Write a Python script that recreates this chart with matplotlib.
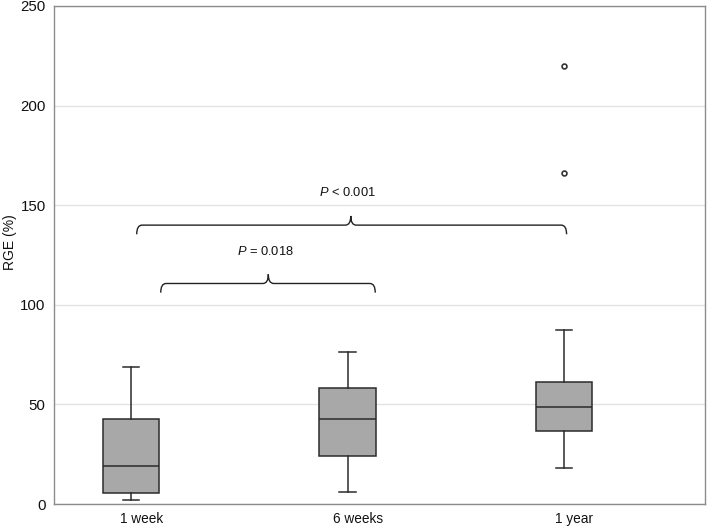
import matplotlib
matplotlib.use("Agg")
import matplotlib.pyplot as plt
from matplotlib.path import Path
from matplotlib.patches import PathPatch

plt.rcParams['font.family'] = ['Liberation Sans', 'DejaVu Sans']
plt.rcParams['mathtext.fontset'] = 'custom'
plt.rcParams['mathtext.it'] = 'Liberation Sans:italic'
plt.rcParams['mathtext.rm'] = 'Liberation Sans'

# summary values
groups = ['1 week', '6 weeks', '1 year']
whislo = [2.0, 6.2, 18.0]
q1 = [5.7, 24.3, 36.6]
med = [19.1, 42.6, 48.8]
q3 = [42.9, 58.0, 61.0]
whishi = [68.8, 76.5, 87.2]
fliers = [[], [], [166.3, 219.8]]

# significance braces: (x start, x end, x tip, y line, label)
brace_x0 = [0.137, 0.026]
brace_x1 = [1.128, 2.012]
brace_tip = [0.634, 1.015]
brace_y = [110.7, 140.0]
brace_lbl = [r'$\it{P}$ = 0.018', r'$\it{P}$ < 0.001']


def draw_brace(ax, x0, x1, xt, y, label, dh=4.6, r=0.025):
    # flat brace: rounded ends going down, small cusp going up in the middle
    verts = [(x0, y - dh), (x0, y), (x0 + r, y),
             (xt - r, y), (xt, y), (xt, y + dh),
             (xt, y), (xt + r, y),
             (x1 - r, y), (x1, y), (x1, y - dh)]
    codes = [Path.MOVETO, Path.CURVE3, Path.CURVE3,
             Path.LINETO, Path.CURVE3, Path.CURVE3,
             Path.CURVE3, Path.CURVE3,
             Path.LINETO, Path.CURVE3, Path.CURVE3]
    ax.add_patch(PathPatch(Path(verts, codes), fc='none', ec='#222222', lw=1.0))
    ax.text(xt - 0.015, y + 13, label, ha='center', va='bottom', fontsize=9.3, color='#111111')


fig = plt.figure(figsize=(7.09, 5.28), dpi=100)
ax = fig.add_axes([0.0762, 0.04545, 0.918, 0.9432])

stats = []
for i, g in enumerate(groups):
    stats.append(dict(label=g, whislo=whislo[i], q1=q1[i], med=med[i],
                      q3=q3[i], whishi=whishi[i], fliers=fliers[i]))

pos = [0, 1, 2]
ax.bxp(stats, positions=pos, widths=0.26, capwidths=0.075,
       patch_artist=True, showfliers=True,
       boxprops=dict(facecolor='#a8a8a8', edgecolor='#2b2b2b', lw=1.1),
       medianprops=dict(color='#2b2b2b', lw=1.1),
       whiskerprops=dict(color='#2b2b2b', lw=1.1),
       capprops=dict(color='#2b2b2b', lw=1.1),
       flierprops=dict(marker='o', markersize=3.5, mfc='white', mec='#333333', mew=1.2))

for i in range(len(brace_y)):
    draw_brace(ax, brace_x0[i], brace_x1[i], brace_tip[i], brace_y[i], brace_lbl[i])

# category labels sit a little right of the boxes in the original
ax.set_xticks([p + 0.048 for p in pos])
ax.set_xticklabels(groups, fontsize=9.8)
ax.set_xlim(-0.356, 2.651)
ax.set_ylim(0, 250)
ax.set_yticks([0, 50, 100, 150, 200, 250])
ax.tick_params(axis='y', labelsize=10.8, pad=6)
ax.yaxis.grid(True, color='#e3e3e3', lw=1.0)
ax.set_axisbelow(True)
ax.tick_params(length=0, colors='#111111')
ax.tick_params(axis='x', pad=6)
ax.set_ylabel('RGE (%)', fontsize=10, color='#111111', va='center')
ax.yaxis.set_label_coords(-0.068, 0.526)
for s in ax.spines.values():
    s.set_color('#8c8c8c')
    s.set_linewidth(1.0)

fig.savefig('out.png', dpi=100)
